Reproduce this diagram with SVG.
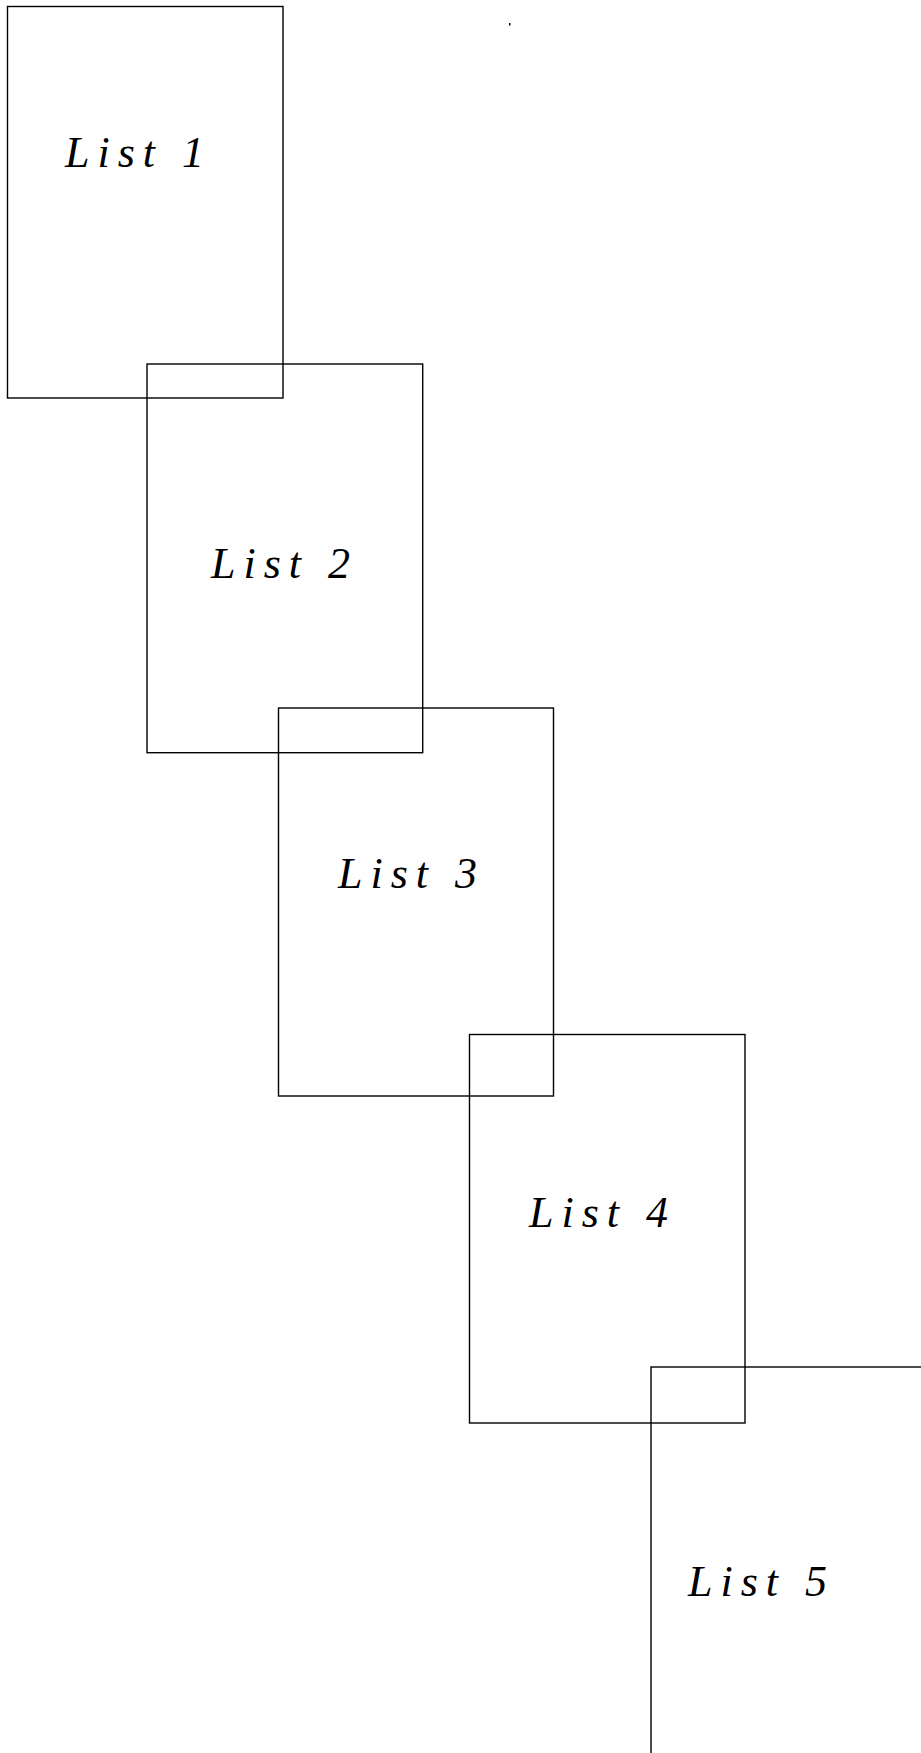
<svg xmlns="http://www.w3.org/2000/svg" width="921" height="1753" viewBox="0 0 921 1753">
<style>
.box{fill:none;stroke:#000;stroke-width:1.4}
.lbl{font-family:"Liberation Serif",serif;font-style:italic;font-size:44px;letter-spacing:8px;fill:#000}
</style>
<rect width="921" height="1753" fill="#fff"/>
<g id="list1"><rect class="box" x="7.5" y="6.5" width="275.5" height="391.5"/><text class="lbl" x="65" y="167">List 1</text></g>
<g id="list2"><rect class="box" x="147" y="364" width="275.7" height="388.7"/><text class="lbl" x="211" y="578">List 2</text></g>
<g id="list3"><rect class="box" x="278.5" y="708" width="275" height="388"/><text class="lbl" x="338" y="888">List 3</text></g>
<g id="list4"><rect class="box" x="469.5" y="1034.5" width="275.5" height="388.5"/><text class="lbl" x="529" y="1227">List 4</text></g>
<g id="list5"><rect class="box" x="651" y="1367" width="300" height="420"/><text class="lbl" x="688" y="1596">List 5</text></g>
<g id="connectors"></g>
<rect x="509" y="23" width="1.5" height="2.5" fill="#000"/>
</svg>
